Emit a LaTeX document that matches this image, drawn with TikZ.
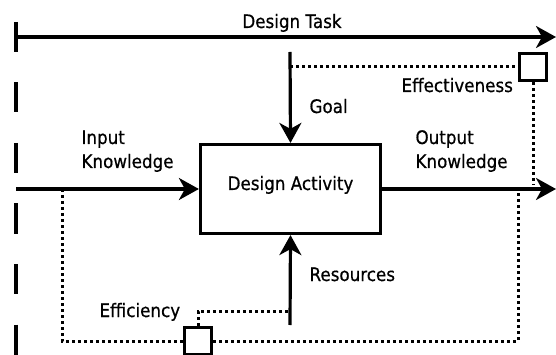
\documentclass[tikz,border=0pt]{standalone}
\usepackage{fontspec}
\setmainfont{DejaVu Sans}[FakeStretch=0.9,FakeBold=0.6]
\usetikzlibrary{arrows.meta}
\tikzset{
  flow/.style={line width=3.2pt,-{Stealth[length=20pt,width=22pt,inset=6pt]}},
  ctrl/.style={line width=3pt,dash pattern=on 3pt off 3pt},
  actbox/.style={draw,line width=3.2pt,minimum width=180pt,minimum height=89pt,
                 text height=14pt,text depth=12pt},
  gate/.style={draw,line width=3.2pt,minimum size=27pt,inner sep=0pt},
  lbl/.style={anchor=base west,align=left},
}
\begin{document}
\begin{tikzpicture}[x=1pt,y=-1pt,font=\fontsize{18.6}{24}\selectfont]
  \useasboundingbox (0,0) rectangle (556,355);
  % ------ task axis -----------
  \coordinate (taskL) at (16,37);   \coordinate (taskR) at (556,37);
  \draw[line width=3.2pt,dash pattern=on 30pt off 30.5pt] (16,22) -- (16,356);
  \draw[flow] (taskL) -- (taskR);
  \node[anchor=base] (task) at (292,28) {Design Task};
  % ------ activity and flows -----------
  \node[actbox] (act) at (290.5,189) {Design Activity};
  \coordinate (inL) at (16,189);   \coordinate (outR) at (556,189);
  \coordinate (goalT) at (290,52); \coordinate (resB) at (290,325);
  \draw[flow] (inL) -- (act.west);
  \draw[flow] (act.east) -- (outR);
  \draw[flow] (goalT) -- (act.north);
  \draw[flow] (resB) -- (act.south);
  % ------ measures -----------
  \node[gate] (eff) at (533,67) {};
  \node[gate] (effi) at (198,341) {};
  \draw[ctrl] (290,67) -- (eff.west);
  \draw[ctrl] (eff.south) -- (533,185);
  \draw[ctrl] (62,189) -- (62,341) -- (effi.west);
  \draw[ctrl] (effi.east) -- (518,341) -- (518,189);
  \draw[ctrl] (effi.north) -- (198,311) -- (290,311);
  % ------ labels -----------
  \node[lbl] (inK) at (78,168) {Input\\Knowledge};
  \node[lbl] (outK) at (412,168) {Output\\Knowledge};
  \node[lbl] (goal) at (306,113) {Goal};
  \node[lbl] (effL) at (398,92) {Effectiveness};
  \node[lbl] (resL) at (306,281) {Resources};
  \node[lbl] (effiL) at (96,317) {Efficiency};
\end{tikzpicture}
\end{document}
